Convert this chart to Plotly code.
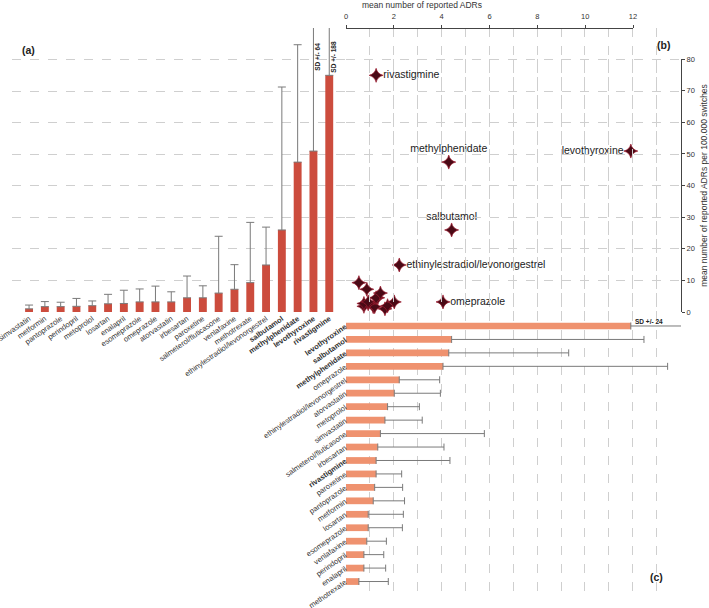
import plotly.graph_objects as go

W, H = 709, 608

# ---------------- data ----------------
drugs = ["simvastatin", "metformin", "pantoprazole", "perindopril", "metoprolol",
         "losartan", "enalapril", "esomeprazole", "omeprazole", "atorvastatin",
         "irbesartan", "paroxetine", "salmeterol/fluticasone", "venlafaxine",
         "methotrexate", "ethinylestradiol/levonorgestrel", "salbutamol",
         "methylphenidate", "levothyroxine", "rivastigmine"]
adr_per_100k = [1.0, 1.7, 1.7, 1.8, 2.0, 2.6, 2.7, 3.2, 3.2, 3.2,
                4.5, 4.5, 6.0, 7.2, 9.3, 14.9, 26.0, 47.5, 51.0, 75.0]
adr_per_100k_sd = [1.2, 1.6, 1.4, 2.5, 1.5, 3.0, 4.2, 4.1, 5.0, 3.2,
                   6.9, 3.8, 18.0, 7.8, 19.1, 12.0, 45.3, 37.2, 64, 188]
mean_adr = [1.63, 1.14, 1.20, 0.75, 1.74, 0.93, 0.75, 0.93, 4.06, 2.02,
            1.33, 1.26, 1.44, 0.87, 0.54, 2.23, 4.42, 4.30, 11.92, 1.26]
mean_adr_sd = [1.56, 1.31, 1.17, 0.83, 1.33, 1.47, 0.91, 1.43, 9.40, 1.93,
               2.77, 1.07, 4.35, 0.82, 1.23, 1.69, 8.05, 5.02, 24, 3.09]
order_c = ["levothyroxine", "salbutamol", "methylphenidate", "omeprazole",
           "ethinylestradiol/levonorgestrel", "atorvastatin", "metoprolol",
           "simvastatin", "salmeterol/fluticasone", "irbesartan", "rivastigmine",
           "paroxetine", "pantoprazole", "metformin", "losartan", "esomeprazole",
           "venlafaxine", "perindopril", "enalapril", "methotrexate"]
bold_drugs = ["salbutamol", "methylphenidate", "levothyroxine", "rivastigmine"]
scatter_labels = {"rivastigmine": "middle right", "methylphenidate": "top center",
                  "levothyroxine": "middle left", "salbutamol": "top center",
                  "ethinylestradiol/levonorgestrel": "middle right",
                  "omeprazole": "middle right"}
y_max_a = 90
x_max_c = 14.02

# ---------------- helpers ----------------
def px_x(p):
    return p / W

def px_y(p):
    return 1 - p / H

def fmt(d):
    return f"<b>{d}</b>" if d in bold_drugs else d

FONT = "Liberation Sans, Arial, sans-serif"
RED = "#cc4c3d"
SALMON = "#ef926f"
ERR = "#7a7a7a"
GRID = "#cfcfcf"

idx = {d: i for i, d in enumerate(drugs)}
mean_c = [mean_adr[idx[d]] for d in order_c]
sd_c = [mean_adr_sd[idx[d]] for d in order_c]

fig = go.Figure()

# panel (a) bars
fig.add_trace(go.Bar(
    x=drugs, y=adr_per_100k, xaxis="x", yaxis="y",
    marker=dict(color=RED, line=dict(width=0)),
    error_y=dict(type="data", symmetric=False, array=adr_per_100k_sd,
                 arrayminus=[0] * len(drugs), color=ERR, thickness=1, width=4),
    width=0.5, hoverinfo="skip"))

# panel (c) bars
fig.add_trace(go.Bar(
    x=mean_c, y=order_c, orientation="h", xaxis="x4", yaxis="y4",
    marker=dict(color=SALMON, line=dict(width=0)),
    error_x=dict(type="data", symmetric=False, array=sd_c,
                 arrayminus=[0] * len(order_c), color=ERR, thickness=1, width=3.5),
    width=0.5, hoverinfo="skip"))

# dummy traces so the free axes are drawn
fig.add_trace(go.Scatter(x=[None], y=[None], xaxis="x3", yaxis="y", showlegend=False))
fig.add_trace(go.Scatter(x=[None], y=[None], xaxis="x2", yaxis="y3", showlegend=False))

# panel (b) scatter
fig.add_trace(go.Scatter(
    x=mean_adr, y=adr_per_100k, xaxis="x2", yaxis="y",
    mode="markers+text",
    marker=dict(symbol="star-diamond", size=10, color="#4a0a16",
                line=dict(color="#a01c30", width=0.7)),
    text=[d if d in scatter_labels else "" for d in drugs],
    textposition=[scatter_labels.get(d, "middle right") for d in drugs],
    textfont=dict(family=FONT, size=10.5, color="#222222"),
    cliponaxis=False, hoverinfo="skip"))

tickfont = dict(family=FONT, size=7.5, color="#333333")
common = dict(automargin=False, zeroline=False)

fig.update_layout(
    template="none",
    width=W, height=H, margin=dict(l=0, r=0, t=0, b=0, pad=0),
    paper_bgcolor="white", plot_bgcolor="rgba(0,0,0,0)", showlegend=False,
    font=dict(family=FONT, color="#333333"),
    xaxis=dict(domain=[px_x(12), px_x(346)], range=[-1.08, 20.06], type="category",
               categoryorder="array", categoryarray=drugs,
               tickvals=drugs, ticktext=[fmt(d) for d in drugs],
               tickangle=-35, tickfont=tickfont, showgrid=False, showline=False,
               ticks="", anchor="y", **common),
    yaxis=dict(domain=[px_y(312), px_y(28)], range=[0, y_max_a],
               tickvals=list(range(10, 81, 10)), showticklabels=False,
               showgrid=True, gridcolor=GRID, griddash="dash", gridwidth=1,
               showline=False, ticks="", anchor="x", **common),
    xaxis2=dict(domain=[px_x(346), px_x(681)], range=[0, x_max_c],
                tickvals=list(range(0, 14)), showticklabels=False,
                showgrid=True, gridcolor=GRID, griddash="dash", gridwidth=1,
                showline=False, ticks="", anchor="y", **common),
    xaxis4=dict(domain=[px_x(346), px_x(681)], range=[0, x_max_c],
                tickvals=list(range(0, 14)), showticklabels=False,
                showgrid=True, gridcolor=GRID, griddash="dash", gridwidth=1,
                showline=False, ticks="", anchor="y4", **common),
    xaxis3=dict(domain=[px_x(346), px_x(633)], range=[0, 12], side="top",
                anchor="free", position=px_y(27.5), dtick=2,
                showline=True, linecolor="#444444", linewidth=1,
                ticks="outside", ticklen=3, tickcolor="#444444",
                ticklabelstandoff=3,
                tickfont=tickfont, showgrid=False, **common),
    yaxis3=dict(domain=[px_y(312), px_y(59)], range=[0, 80], side="right",
                anchor="free", position=px_x(681), dtick=10,
                showline=True, linecolor="#444444", linewidth=1,
                ticks="outside", ticklen=3, tickcolor="#444444",
                tickfont=tickfont, showgrid=False,
                title=dict(text="mean number of reported ADRs per 100.000 switches",
                           font=dict(family=FONT, size=8.5, color="#333333")),
                **common),
    yaxis4=dict(domain=[px_y(597), px_y(312)], range=[20.15, -1.04], type="category",
                categoryorder="array", categoryarray=order_c,
                tickvals=order_c, ticktext=[fmt(d) for d in order_c],
                tickangle=-35, tickfont=tickfont, showgrid=False, showline=False,
                ticks="", anchor="x4", **common),
)

ann = []
# SD labels for error bars running off the chart
for d, v, s in zip(drugs, adr_per_100k, adr_per_100k_sd):
    if v + s > y_max_a:
        ann.append(dict(x=d, y=81, xref="x", yref="y", text=f"<b>SD +/- {s}</b>",
                        textangle=-90, showarrow=False, xshift=4,
                        font=dict(family=FONT, size=6.5, color="#222222")))
for d, v, s in zip(order_c, mean_c, sd_c):
    if v + s > x_max_c:
        ann.append(dict(x=v, y=d, xref="x4", yref="y4", text=f"<b>SD +/- {s}</b>",
                        xanchor="left", showarrow=False, xshift=2, yshift=4,
                        font=dict(family=FONT, size=6.5, color="#222222")))
ann.append(dict(x=px_x(360), y=px_y(5), xref="paper", yref="paper",
                text="mean number of reported ADRs", xanchor="left", yanchor="middle",
                showarrow=False, font=dict(family=FONT, size=8.5, color="#333333")))
for t, x, y in [("(a)", 20, 50), ("(b)", 655, 45), ("(c)", 648, 577)]:
    ann.append(dict(x=px_x(x), y=px_y(y), xref="paper", yref="paper",
                    text=f"<b>{t}</b>", xanchor="left", yanchor="middle",
                    showarrow=False, font=dict(family=FONT, size=10.5, color="#222222")))
fig.update_layout(annotations=ann)

fig.write_html("out.html",
               config={"displayModeBar": False},
               post_script="document.body.style.margin='0';"
                           "document.body.style.overflow='hidden';")
